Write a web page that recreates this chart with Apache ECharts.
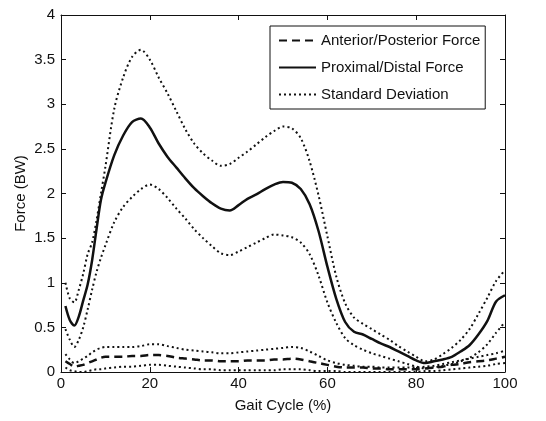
<!DOCTYPE html>
<html>
<head>
<meta charset="utf-8">
<script src="https://cdn.jsdelivr.net/npm/echarts@6/dist/echarts.min.js"></script>
<style>
html,body{margin:0;padding:0;background:#fff;}
#chart{width:546px;height:421px;}
</style>
</head>
<body>
<div id="chart"></div>
<script>
// Gait cycle (%) sample positions
var gaitPct = [1,2,3,4,5,6,7,8,9,10,12,14,16,18,20,22,24,26,28,30,32,34,36,38,40,42,44,46,48,50,52,54,56,58,60,62,64,66,68,70,72,74,76,78,80,82,84,86,88,90,92,94,96,98,100];

// Proximal/Distal force (BW)
var pdForce = [0.74,0.58,0.52,0.62,0.80,0.98,1.25,1.60,1.93,2.12,2.43,2.65,2.80,2.84,2.74,2.56,2.41,2.29,2.17,2.06,1.97,1.89,1.83,1.81,1.87,1.94,1.99,2.05,2.10,2.13,2.12,2.05,1.88,1.58,1.18,0.82,0.56,0.45,0.42,0.37,0.32,0.28,0.23,0.18,0.13,0.10,0.12,0.14,0.17,0.23,0.30,0.42,0.57,0.79,0.86];
var pdUpper = [1.00,0.82,0.78,0.92,1.10,1.32,1.45,1.70,2.00,2.30,2.95,3.30,3.53,3.61,3.50,3.30,3.12,2.92,2.72,2.56,2.45,2.37,2.31,2.33,2.40,2.47,2.55,2.63,2.70,2.75,2.73,2.62,2.36,1.98,1.52,1.07,0.77,0.61,0.54,0.48,0.42,0.36,0.29,0.23,0.17,0.12,0.14,0.20,0.27,0.36,0.48,0.65,0.83,1.02,1.14];
var pdLower = [0.48,0.36,0.28,0.36,0.50,0.70,0.92,1.12,1.28,1.42,1.68,1.85,1.96,2.05,2.10,2.05,1.95,1.83,1.72,1.60,1.50,1.41,1.33,1.31,1.35,1.40,1.45,1.50,1.54,1.53,1.51,1.45,1.32,1.08,0.78,0.55,0.38,0.30,0.25,0.21,0.18,0.15,0.12,0.09,0.06,0.04,0.05,0.07,0.09,0.12,0.16,0.22,0.31,0.44,0.56];

// Anterior/Posterior force (BW)
var apForce = [0.12,0.09,0.06,0.07,0.08,0.10,0.12,0.14,0.16,0.17,0.17,0.17,0.18,0.18,0.19,0.19,0.18,0.16,0.15,0.14,0.13,0.13,0.12,0.12,0.12,0.13,0.13,0.13,0.14,0.14,0.15,0.14,0.12,0.10,0.08,0.06,0.05,0.05,0.05,0.04,0.04,0.03,0.03,0.03,0.03,0.04,0.05,0.06,0.08,0.09,0.11,0.12,0.13,0.15,0.17];
var apUpper = [0.20,0.14,0.10,0.12,0.15,0.18,0.22,0.25,0.27,0.28,0.28,0.28,0.28,0.29,0.31,0.31,0.29,0.27,0.25,0.24,0.23,0.22,0.21,0.21,0.22,0.23,0.24,0.25,0.26,0.27,0.28,0.27,0.23,0.18,0.13,0.10,0.08,0.07,0.06,0.06,0.05,0.05,0.05,0.05,0.05,0.06,0.07,0.09,0.11,0.13,0.15,0.17,0.19,0.21,0.24];
var apLower = [0.05,0.02,0.01,0.00,0.00,0.01,0.02,0.03,0.03,0.04,0.05,0.06,0.06,0.07,0.08,0.08,0.07,0.06,0.05,0.04,0.03,0.03,0.02,0.02,0.02,0.02,0.02,0.02,0.02,0.03,0.03,0.03,0.02,0.01,0.01,0.01,0.00,0.00,0.00,0.00,0.00,0.00,0.00,0.00,0.00,0.01,0.01,0.02,0.03,0.04,0.05,0.06,0.07,0.09,0.10];

// Axis ticks
var xTicks = [0,20,40,60,80,100];
var yTicks = [0,0.5,1,1.5,2,2.5,3,3.5,4];

var seriesNames = ['Anterior/Posterior Force','Proximal/Distal Force','Standard Deviation'];

function pairs(ys){ return gaitPct.map(function(x,i){ return [x, ys[i]]; }); }

var FONT = 'Liberation Sans, Arial, sans-serif';
var INK = '#111';

function lineSeries(name, ys, type, width){
  return {
    name: name, type: 'line', data: pairs(ys), smooth: 0.3,
    showSymbol: false, symbol: 'none', animation: false,
    lineStyle: {color: INK, width: width, type: type, cap: 'butt'},
    itemStyle: {color: INK},
    emphasis: {disabled: true}
  };
}

var chart = echarts.init(document.getElementById('chart'), null, {renderer: 'canvas'});
chart.setOption({
  backgroundColor: '#fff',
  animation: false,
  grid: {left: 61, right: 41, top: 15, bottom: 49, containLabel: false},
  legend: {
    data: seriesNames,
    orient: 'vertical', left: 270, top: 26,
    itemWidth: 37, itemHeight: 14, itemGap: 12,
    padding: [7, 5, 7, 8],
    borderColor: INK, borderWidth: 1, backgroundColor: '#fff',
    itemStyle: {opacity: 0},
    textStyle: {fontFamily: FONT, fontSize: 15, color: INK},
    selectedMode: false
  },
  xAxis: [{
    type: 'value', min: xTicks[0], max: xTicks[xTicks.length-1], interval: 20,
    name: 'Gait Cycle (%)', nameLocation: 'middle', nameGap: 26, nameMoveOverlap: false,
    nameTextStyle: {fontFamily: FONT, fontSize: 15, color: INK, verticalAlign: 'top'},
    axisLine: {show: true, onZero: false, lineStyle: {color: INK, width: 1}},
    axisTick: {show: true, inside: true, length: 5, lineStyle: {color: INK}},
    axisLabel: {fontFamily: FONT, fontSize: 15, color: INK, margin: 4},
    splitLine: {show: false}
  },{
    type: 'value', position: 'top', min: xTicks[0], max: xTicks[xTicks.length-1], interval: 20,
    axisLine: {show: true, onZero: false, lineStyle: {color: INK, width: 1}},
    axisTick: {show: true, inside: true, length: 5, lineStyle: {color: INK}},
    axisLabel: {show: false}, splitLine: {show: false}
  }],
  yAxis: [{
    type: 'value', min: yTicks[0], max: yTicks[yTicks.length-1], interval: 0.5,
    name: 'Force (BW)', nameLocation: 'middle', nameGap: 33, nameMoveOverlap: false,
    nameTextStyle: {fontFamily: FONT, fontSize: 15, color: INK},
    axisLine: {show: true, onZero: false, lineStyle: {color: INK, width: 1}},
    axisTick: {show: true, inside: true, length: 5, lineStyle: {color: INK}},
    axisLabel: {fontFamily: FONT, fontSize: 15, color: INK, margin: 6},
    splitLine: {show: false}
  },{
    type: 'value', position: 'right', min: yTicks[0], max: yTicks[yTicks.length-1], interval: 0.5,
    axisLine: {show: true, onZero: false, lineStyle: {color: INK, width: 1}},
    axisTick: {show: true, inside: true, length: 5, lineStyle: {color: INK}},
    axisLabel: {show: false}, splitLine: {show: false}
  }],
  series: [
    lineSeries(seriesNames[0], apForce, [8,5], 2.5),
    lineSeries(seriesNames[1], pdForce, 'solid', 2.5),
    lineSeries(seriesNames[2], pdUpper, [2,3], 2),
    lineSeries(seriesNames[2], pdLower, [2,3], 2),
    lineSeries(seriesNames[2], apUpper, [2,3], 2),
    lineSeries(seriesNames[2], apLower, [2,3], 2)
  ]
});
</script>
</body>
</html>
